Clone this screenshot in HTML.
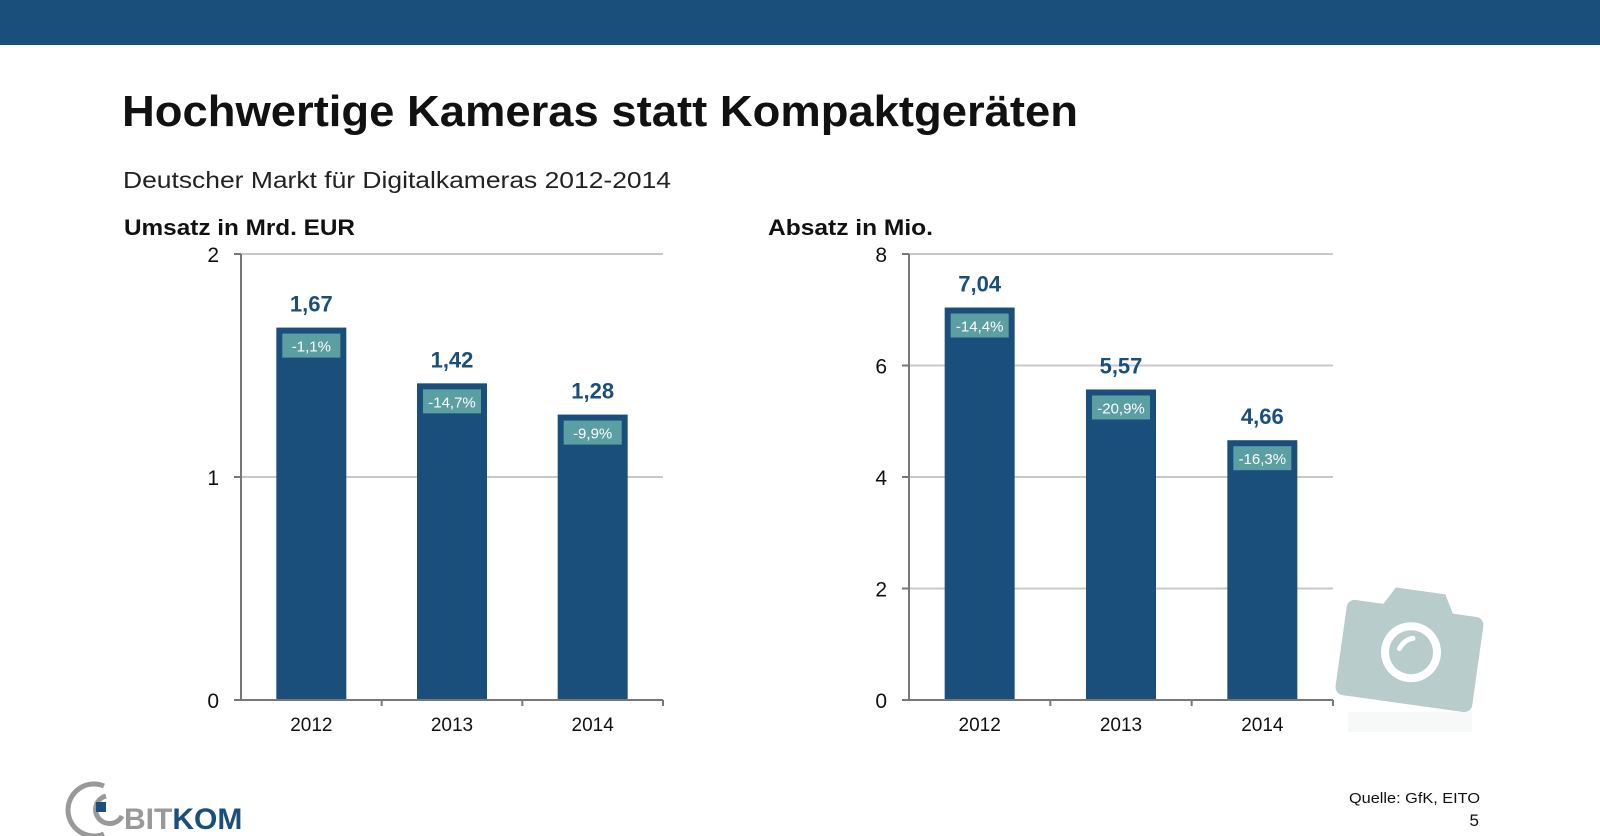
<!DOCTYPE html>
<html><head><meta charset="utf-8"><style>
body{margin:0;background:#fff;}
svg{display:block;font-family:"Liberation Sans","DejaVu Sans",sans-serif;}
</style></head><body>
<svg width="1600" height="836" viewBox="0 0 1600 836" xmlns="http://www.w3.org/2000/svg">
<rect x="0" y="0" width="1600" height="45" fill="#1a4f7c"/>
<text x="122" y="126" font-size="44" font-weight="bold" fill="#111" textLength="956" lengthAdjust="spacingAndGlyphs">Hochwertige Kameras statt Kompaktgeräten</text>
<text x="123" y="188" font-size="23" fill="#222" textLength="548" lengthAdjust="spacingAndGlyphs">Deutscher Markt für Digitalkameras 2012-2014</text>
<text x="124" y="235" font-size="22" font-weight="bold" fill="#111" textLength="231" lengthAdjust="spacingAndGlyphs">Umsatz in Mrd. EUR</text>
<text x="768" y="235" font-size="22" font-weight="bold" fill="#111" textLength="165" lengthAdjust="spacingAndGlyphs">Absatz in Mio.</text>
<g id="charts"></g>
<g>
<g transform="rotate(8 1410 645)">
<path d="M1350 608 h28 l10 -18 h50 l10 18 h24 a8 8 0 0 1 8 8 v80 a8 8 0 0 1 -8 8 h-122 a8 8 0 0 1 -8 -8 v-80 a8 8 0 0 1 8 -8z" fill="#b7cccb"/>
<circle cx="1412" cy="652" r="30" fill="#fff"/>
<circle cx="1412" cy="652" r="22" fill="#b7cccb"/>
<path d="M1400 650 q4 -10 12 -12" stroke="#fff" stroke-width="5" fill="none" stroke-linecap="round"/>
</g>
<rect x="1348" y="712" width="124" height="20" fill="#eef3f2" opacity="0.5"/>
</g>
<text x="1349" y="803" font-size="15" fill="#111" textLength="131" lengthAdjust="spacingAndGlyphs">Quelle: GfK, EITO</text>
<text x="1479" y="826" font-size="17" fill="#111" text-anchor="end">5</text>
<g>
<path d="M104 786 a26 26 0 1 0 0 48" stroke="#999" stroke-width="5" fill="none"/>
<path d="M106 796 a14 14 0 1 0 16 20" stroke="#999" stroke-width="5" fill="none"/>
<rect x="96" y="802" width="10" height="10" fill="#1a4f7c"/>
<text x="124" y="829" font-size="30" font-weight="bold" fill="#999">BIT<tspan fill="#1a4f7c">KOM</tspan></text>
</g>
</svg>
<script>
const years = ["2012","2013","2014"];
const umsatzValues = [1.67,1.42,1.28];
const umsatzLabels = ["1,67","1,42","1,28"];
const umsatzPct = ["-1,1%","-14,7%","-9,9%"];
const umsatzTicks = [0,1,2];
const absatzValues = [7.04,5.57,4.66];
const absatzLabels = ["7,04","5,57","4,66"];
const absatzPct = ["-14,4%","-20,9%","-16,3%"];
const absatzTicks = [0,2,4,6,8];

const NS="http://www.w3.org/2000/svg";
const root=document.getElementById('charts');
function mk(tag,attrs,parent){const e=document.createElementNS(NS,tag);for(const k in attrs)e.setAttribute(k,attrs[k]);parent.appendChild(e);return e;}
function chart(name,x0,x1,max,ticks,vals,labels,pct){
  const g=mk('g',{},root);
  
  
  const yTop=254,yBot=700;
  const y=v=>yBot-(v/max)*(yBot-yTop);
  const step=(x1-x0)/years.length;
  const xc=i=>x0+step*(i+0.5);
  ticks.forEach(t=>{
    if(t>0){const l=mk('line',{x1:x0,x2:x1,y1:y(t),y2:y(t),stroke:'#c8c8c8','stroke-width':2},g);
    
    }
    const tk=mk('line',{x1:x0-7,x2:x0,y1:y(t),y2:y(t),stroke:'#777','stroke-width':2},g);
    
    
    const tx=mk('text',{x:x0-22,y:y(t)+8,'font-size':21,'text-anchor':'end',fill:'#111'},g);
    tx.textContent=t;
    
    
  });
  vals.forEach((v,i)=>{
    const bw=70,bx=xc(i)-bw/2;
    const b=mk('rect',{x:bx,y:y(v),width:bw,height:yBot-y(v),fill:'#1a4f7c'},g);
    
    
    const vl=mk('text',{x:xc(i),y:y(v)-16,'font-size':22,'font-weight':'bold','text-anchor':'middle',fill:'#1a4f7c'},g);
    vl.textContent=labels[i];
    
    
    const pb=mk('rect',{x:xc(i)-29,y:y(v)+6,width:58,height:24,fill:'#5c9fa3'},g);
    
    
    const pt=mk('text',{x:xc(i),y:y(v)+24,'font-size':15,'text-anchor':'middle',fill:'#fff'},g);
    pt.textContent=pct[i];
    
    
    const xl=mk('text',{x:xc(i),y:731,'font-size':19,'text-anchor':'middle',fill:'#111'},g);
    xl.textContent=years[i];
    
    
    if(i>0){const xt=mk('line',{x1:x0+step*i,x2:x0+step*i,y1:yBot,y2:yBot+6,stroke:'#777','stroke-width':2},g);
    
    }
  });
  const ax=mk('line',{x1:x0,x2:x0,y1:yTop,y2:yBot+1,stroke:'#777','stroke-width':2},g);
  
  
  const bx=mk('line',{x1:x0,x2:x1,y1:yBot,y2:yBot,stroke:'#777','stroke-width':2},g);
  
  
  const et=mk('line',{x1:x1,x2:x1,y1:yBot,y2:yBot+6,stroke:'#777','stroke-width':2},g);
  
  
}
chart('umsatz-chart',241,663,2,umsatzTicks,umsatzValues,umsatzLabels,umsatzPct);
chart('absatz-chart',909,1333,8,absatzTicks,absatzValues,absatzLabels,absatzPct);
</script>
</body></html>
